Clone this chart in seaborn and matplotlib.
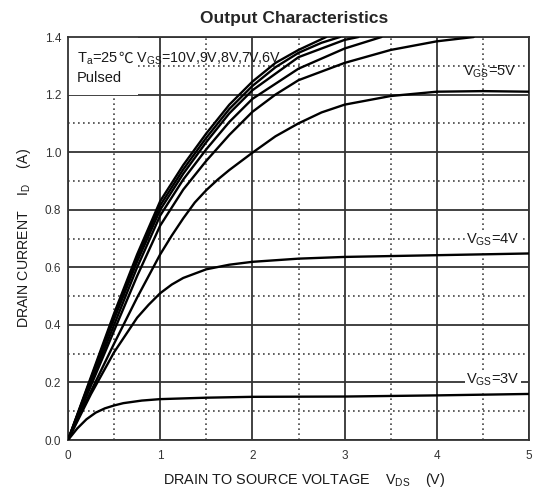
import pandas as pd
import seaborn as sns
import matplotlib.pyplot as plt
from matplotlib.patches import Rectangle
from matplotlib.ticker import MultipleLocator

# Output characteristics (VDS in V, ID in A)
vds_10 = [0, 0.25, 0.5, 0.75, 1.0, 1.25, 1.5, 1.75, 2.0, 2.25, 2.5, 2.8]
id_10 = [0, 0.22, 0.44, 0.645, 0.83, 0.955, 1.065, 1.165, 1.245, 1.31, 1.355, 1.4]
vds_9 = [0, 0.25, 0.5, 0.75, 1.0, 1.25, 1.5, 1.75, 2.0, 2.25, 2.5, 2.75, 2.95]
id_9 = [0, 0.215, 0.43, 0.635, 0.815, 0.94, 1.05, 1.15, 1.23, 1.295, 1.345, 1.38, 1.4]
vds_8 = [0, 0.25, 0.5, 0.75, 1.0, 1.25, 1.5, 1.75, 2.0, 2.5, 3.0, 3.15]
id_8 = [0, 0.21, 0.42, 0.62, 0.8, 0.925, 1.035, 1.135, 1.215, 1.33, 1.39, 1.4]
vds_7 = [0, 0.25, 0.5, 0.75, 1.0, 1.25, 1.5, 1.75, 2.0, 2.5, 3.0, 3.4]
id_7 = [0, 0.2, 0.4, 0.6, 0.78, 0.905, 1.01, 1.105, 1.185, 1.29, 1.36, 1.4]
vds_6 = [0, 0.25, 0.5, 0.75, 1.0, 1.25, 1.5, 1.75, 2.0, 2.25, 2.5, 3.0, 3.5, 4.0, 4.4]
id_6 = [0, 0.19, 0.38, 0.57, 0.745, 0.87, 0.97, 1.06, 1.14, 1.2, 1.25, 1.31, 1.355, 1.385, 1.4]
vds_5 = [0, 0.25, 0.5, 0.75, 1.0, 1.125, 1.25, 1.375, 1.5, 1.625, 1.75, 2.0,
         2.25, 2.5, 2.75, 3.0, 3.5, 4.0, 4.5, 5.0]
id_5 = [0, 0.17, 0.335, 0.495, 0.645, 0.71, 0.77, 0.825, 0.868, 0.905, 0.938, 0.998,
        1.055, 1.1, 1.138, 1.165, 1.195, 1.21, 1.212, 1.21]
vds_4 = [0, 0.25, 0.5, 0.75, 0.875, 1.0, 1.125, 1.25, 1.5, 1.75, 2.0, 2.5, 3.0, 4.0, 5.0]
id_4 = [0, 0.16, 0.305, 0.425, 0.47, 0.51, 0.54, 0.563, 0.593, 0.609, 0.619, 0.63,
        0.636, 0.642, 0.648]
vds_3 = [0, 0.1, 0.2, 0.3, 0.4, 0.5, 0.6, 0.8, 1.0, 1.5, 2.0, 3.0, 4.0, 5.0]
id_3 = [0, 0.04, 0.072, 0.095, 0.11, 0.12, 0.128, 0.137, 0.142, 0.147, 0.15, 0.151, 0.155, 0.16]

curves = {
    '10V': (vds_10, id_10), '9V': (vds_9, id_9), '8V': (vds_8, id_8),
    '7V': (vds_7, id_7), '6V': (vds_6, id_6), '5V': (vds_5, id_5),
    '4V': (vds_4, id_4), '3V': (vds_3, id_3),
}
df = pd.concat(
    [pd.DataFrame({'VDS': x, 'ID': y, 'VGS': k}) for k, (x, y) in curves.items()],
    ignore_index=True,
)

sns.set_style('white')
plt.rcParams['font.family'] = ['Liberation Sans', 'DejaVu Sans']
plt.rcParams['mathtext.fontset'] = 'custom'
plt.rcParams['mathtext.rm'] = 'Liberation Sans'
plt.rcParams['mathtext.it'] = 'Liberation Sans'

fig = plt.figure(figsize=(5.33, 4.94), dpi=100)
ax = fig.add_axes([0.1276, 0.1093, 0.8649, 0.8158])

sns.lineplot(data=df, x='VDS', y='ID', hue='VGS', units='VGS', estimator=None,
             sort=False, palette=['black'] * len(curves), legend=False,
             lw=1.7, ax=ax, zorder=4)

ax.set_xlim(0, 5)
ax.set_ylim(0, 1.4)
ax.xaxis.set_major_locator(MultipleLocator(1))
ax.xaxis.set_minor_locator(MultipleLocator(0.5))
ax.yaxis.set_major_locator(MultipleLocator(0.2))
ax.yaxis.set_minor_locator(MultipleLocator(0.1))
ax.set_yticklabels([f'{v:.1f}' for v in ax.get_yticks()])
ax.grid(which='major', color='#333333', lw=1.3, ls='-')
ax.grid(which='minor', color='#444444', lw=1.2, ls=(0, (1, 2)))
ax.tick_params(which='both', length=0, labelsize=8.5, colors='#333333')
ax.tick_params(axis='x', pad=7)
ax.tick_params(axis='y', pad=5)
for s in ax.spines.values():
    s.set_color('#333333')
    s.set_linewidth(1.3)

fs = 10.5
tc = '#1a1a1a'

# white patch behind the condition text
ax.add_patch(Rectangle((0, 0.857), 0.152, 0.143, transform=ax.transAxes,
                       facecolor='white', edgecolor='none', zorder=2))
t1 = ax.text(0.1, 1.31, 'T$\\mathregular{_a}$=25', fontsize=fs, va='baseline',
             ha='left', color=tc, zorder=5)
fig.canvas.draw()
x2 = ax.transData.inverted().transform((t1.get_window_extent().x1, 0))[0]
t2 = ax.text(x2, 1.31, '\u2103', fontsize=fs, va='baseline', ha='left',
             color=tc, family='Noto Sans CJK SC', zorder=5)
fig.canvas.draw()
x3 = ax.transData.inverted().transform((t2.get_window_extent().x1, 0))[0]
ax.text(x3, 1.31, ' V$\\mathregular{_{GS}}$=10V,9V,8V,7V,6V', fontsize=10.3,
        va='baseline', ha='left', color=tc, zorder=5)
ax.text(0.1, 1.257, 'Pulsed', fontsize=fs, va='center', ha='left',
        color=tc, zorder=5)

box = dict(facecolor='white', edgecolor='none', pad=1)
ax.text(4.28, 1.278, 'V$\\mathregular{_{GS}}$=5V', fontsize=fs, va='center',
        color=tc, zorder=5)
ax.text(4.32, 0.695, 'V$\\mathregular{_{GS}}$=4V', fontsize=fs, va='center',
        color=tc, bbox=box, zorder=5)
ax.text(4.32, 0.208, 'V$\\mathregular{_{GS}}$=3V', fontsize=fs, va='center',
        color=tc, bbox=box, zorder=5)

ax.set_title('Output Characteristics', fontsize=12.5, fontweight='bold',
             pad=10, x=0.49)
ax.set_xlabel('DRAIN TO SOURCE VOLTAGE    V$\\mathregular{_{DS}}$    (V)',
              fontsize=10.4, color=tc, labelpad=7)
ax.xaxis.label.set_x(0.513)
ax.set_ylabel('DRAIN CURRENT    I$\\mathregular{_D}$    (A)',
              fontsize=10.2, color=tc, labelpad=8)

fig.savefig('out.png', dpi=100)
